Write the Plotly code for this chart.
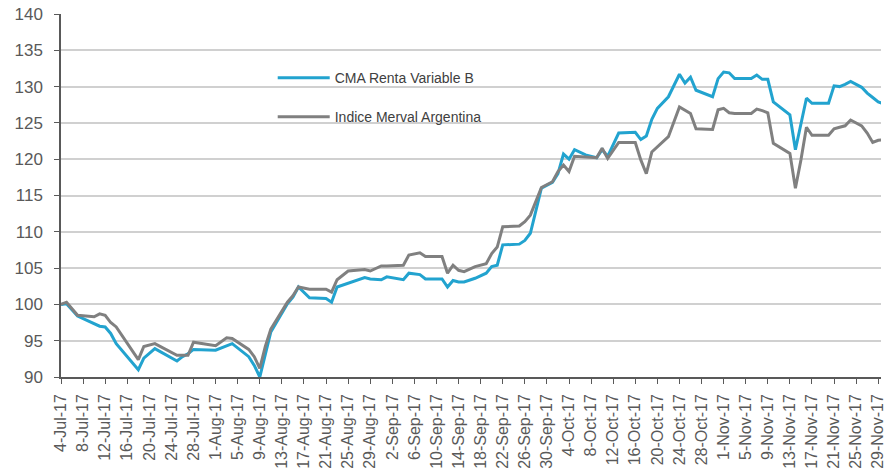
import plotly.graph_objects as go

# Trading dates (vertices of the two index lines)
dates = [
    "2017-07-04", "2017-07-05", "2017-07-07", "2017-07-10", "2017-07-11", "2017-07-12",
    "2017-07-13", "2017-07-14", "2017-07-18", "2017-07-19", "2017-07-21", "2017-07-25",
    "2017-07-26", "2017-07-27", "2017-07-28", "2017-08-01", "2017-08-03", "2017-08-04",
    "2017-08-07", "2017-08-08", "2017-08-09", "2017-08-10", "2017-08-11", "2017-08-14",
    "2017-08-15", "2017-08-16", "2017-08-18", "2017-08-21", "2017-08-22", "2017-08-23",
    "2017-08-25", "2017-08-28", "2017-08-29", "2017-08-31", "2017-09-01", "2017-09-04",
    "2017-09-05", "2017-09-07", "2017-09-08", "2017-09-11", "2017-09-12", "2017-09-13",
    "2017-09-14", "2017-09-15", "2017-09-17", "2017-09-19", "2017-09-20", "2017-09-21",
    "2017-09-22", "2017-09-25", "2017-09-26", "2017-09-27", "2017-09-29", "2017-10-01",
    "2017-10-02", "2017-10-03", "2017-10-04", "2017-10-05", "2017-10-07", "2017-10-09",
    "2017-10-10", "2017-10-11", "2017-10-13", "2017-10-16", "2017-10-17", "2017-10-18",
    "2017-10-19", "2017-10-20", "2017-10-22", "2017-10-24", "2017-10-25", "2017-10-26",
    "2017-10-27", "2017-10-30", "2017-10-31", "2017-11-01", "2017-11-02", "2017-11-03",
    "2017-11-06", "2017-11-07", "2017-11-08", "2017-11-09", "2017-11-10", "2017-11-13",
    "2017-11-14", "2017-11-15", "2017-11-16", "2017-11-17", "2017-11-20", "2017-11-21",
    "2017-11-22", "2017-11-23", "2017-11-24", "2017-11-26", "2017-11-27", "2017-11-28",
    "2017-11-29", "2017-11-30",
]

cma_renta_variable_b = [
    100.0, 100.1, 98.4, 97.4, 97.0, 96.9,
    96.0, 94.6, 91.0, 92.6, 93.9, 92.2,
    92.8, 93.2, 93.8, 93.7, 94.3, 94.6,
    92.8, 91.6, 90.0, 93.3, 96.2, 100.1,
    101.0, 102.4, 100.9, 100.8, 100.3, 102.4,
    102.9, 103.7, 103.5, 103.4, 103.8, 103.4,
    104.3, 104.1, 103.5, 103.5, 102.4, 103.3,
    103.1, 103.1, 103.6, 104.3, 105.2, 105.4,
    108.2, 108.3, 108.8, 109.8, 116.0, 116.8,
    118.0, 120.7, 120.0, 121.3, 120.6, 120.2,
    121.3, 120.4, 123.6, 123.7, 122.7, 123.2,
    125.5, 127.0, 128.6, 131.7, 130.5, 131.3,
    129.5, 128.6, 131.1, 132.0, 131.9, 131.1,
    131.1, 131.6, 131.0, 131.0, 127.9, 126.1,
    121.3, 124.8, 128.4, 127.7, 127.7, 130.1,
    130.0, 130.3, 130.7, 129.9, 129.1, 128.5,
    127.9, 127.6,
]

indice_merval_argentina = [
    100.0, 100.3, 98.5, 98.3, 98.7, 98.5,
    97.5, 96.9, 92.4, 94.2, 94.6, 93.0,
    93.0, 93.0, 94.8, 94.3, 95.4, 95.3,
    93.8, 92.8, 91.2, 94.2, 96.6, 100.3,
    101.2, 102.4, 102.1, 102.1, 101.7, 103.4,
    104.6, 104.8, 104.6, 105.3, 105.3, 105.4,
    106.8, 107.1, 106.6, 106.6, 104.3, 105.4,
    104.7, 104.5, 105.2, 105.6, 107.0, 107.9,
    110.7, 110.8, 111.4, 112.3, 116.1, 116.9,
    118.3, 119.2, 118.3, 120.4, 120.3, 120.2,
    121.5, 120.1, 122.3, 122.3, 119.9, 118.0,
    121.0, 121.7, 123.1, 127.2, 126.8, 126.3,
    124.2, 124.1, 126.8, 127.0, 126.4, 126.3,
    126.3, 126.9, 126.7, 126.4, 122.2, 120.8,
    116.0, 119.9, 124.4, 123.3, 123.3, 124.2,
    124.4, 124.6, 125.4, 124.6, 123.6, 122.3,
    122.6, 122.7,
]

series_names = ["CMA Renta Variable B", "Indice Merval Argentina"]
series_colors = ["#22a3cf", "#808080"]

y_ticks = [90, 95, 100, 105, 110, 115, 120, 125, 130, 135, 140]

FONT = "Liberation Sans, Arial, sans-serif"
AXIS_COLOR = "#595959"
TEXT_COLOR = "#595959"

fig = go.Figure()
for i, (name, values) in enumerate(zip(series_names, [cma_renta_variable_b, indice_merval_argentina])):
    fig.add_trace(go.Scatter(
        x=dates, y=values, mode="lines", name=name,
        legendgroup=f"g{i}",
        line=dict(color=series_colors[i], width=3),
    ))

# white panel behind the legend that interrupts the gridlines
fig.add_shape(
    type="rect", xref="paper", yref="paper",
    x0=(243 - 61) / 825, x1=(520 - 61) / 825,
    y0=(376.7 - 150) / 362.7, y1=(376.7 - 56) / 362.7,
    fillcolor="white", line=dict(width=0), layer="between",
)

fig.update_layout(
    width=886, height=474,
    margin=dict(l=61, r=0, t=14, b=97, pad=0),
    paper_bgcolor="white", plot_bgcolor="white",
    font=dict(family=FONT, color=TEXT_COLOR),
    showlegend=True,
    legend=dict(
        x=(274 - 61) / 825, xanchor="left",
        y=(376.7 - 62) / 362.7, yanchor="top",
        bgcolor="rgba(0,0,0,0)", borderwidth=0,
        font=dict(family=FONT, size=14, color="#404040"),
        traceorder="grouped", tracegroupgap=18,
        itemwidth=52,
    ),
    xaxis=dict(
        type="date",
        range=["2017-07-04", "2017-11-29 12:00"],
        tick0="2017-07-04", dtick=4 * 86400000,
        tickformat="%-d-%b-%y", tickangle=-90,
        ticks="outside", ticklen=5, tickcolor=AXIS_COLOR, tickwidth=1,
        showline=True, linecolor=AXIS_COLOR, linewidth=1.5,
        showgrid=False, zeroline=False,
        tickfont=dict(family=FONT, size=16, color=TEXT_COLOR),
        ticklabelstandoff=4,
        ticklabeloverflow="allow",
    ),
    yaxis=dict(
        range=[90, 140],
        tickvals=y_ticks,
        ticks="outside", ticklen=5, tickcolor=AXIS_COLOR, tickwidth=1,
        showline=True, linecolor=AXIS_COLOR, linewidth=1.5,
        showgrid=True, gridcolor="#d0d0d0", gridwidth=1.5,
        zeroline=False,
        tickfont=dict(family=FONT, size=17, color=TEXT_COLOR),
        ticklabelstandoff=8,
    ),
)

fig.write_html("out.html")
